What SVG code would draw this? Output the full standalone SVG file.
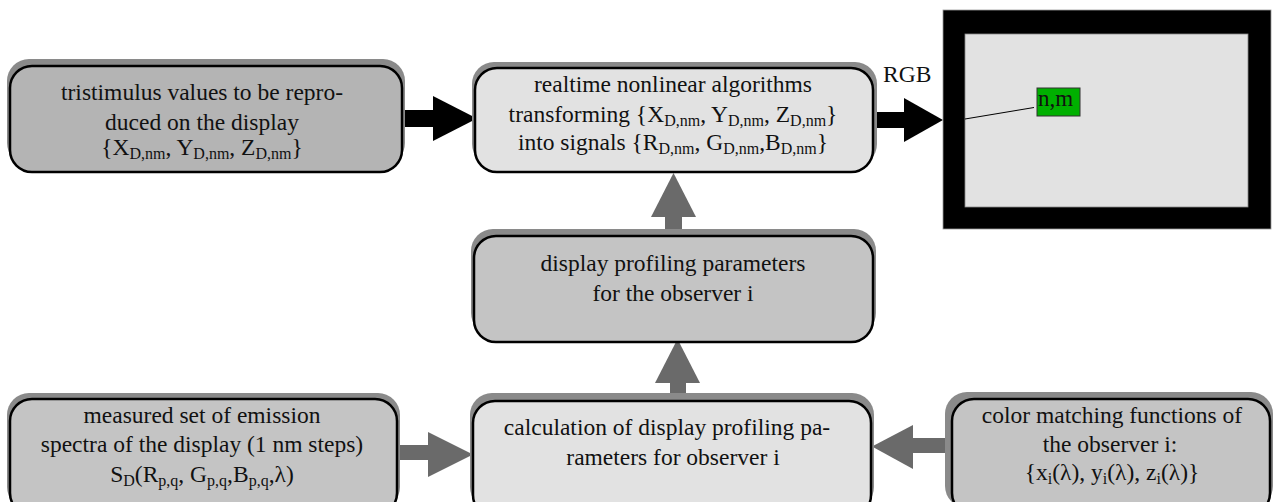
<svg xmlns="http://www.w3.org/2000/svg" width="1273" height="502" viewBox="0 0 1273 502">
<style>
  .shadow { fill: #8a8a8a; }
  .box { stroke: #000; stroke-width: 2.5; }
  .dark { fill: #c4c4c4; }
  .darker { fill: #b4b4b4; }
  .light { fill: #e2e2e2; }
  text { font-family: "Liberation Serif", "Times New Roman", serif; font-size: 23.5px; fill: #111; }
  .c { text-anchor: middle; }
  .sub { font-size: 16px; }
  .ga { fill: #6a6a6a; }
  .ba { fill: #000; }
</style>
<rect width="1273" height="502" fill="#fff"/>

<g id="connectors">
  <rect class="ba" x="400" y="110" width="35" height="17"/>
  <polygon class="ba" points="433,96 477,118.5 433,141"/>
  <rect class="ba" x="873" y="112" width="33" height="16"/>
  <polygon class="ba" points="904,98 943,120 904,142"/>
  <rect class="ga" x="665" y="215" width="17" height="18"/>
  <polygon class="ga" points="651,217 673.5,173 696,217"/>
  <rect class="ga" x="670" y="381" width="16" height="16"/>
  <polygon class="ga" points="655,383 677.5,339 700,383"/>
  <rect class="ga" x="397" y="445" width="33" height="15"/>
  <polygon class="ga" points="428,432 473,454.5 428,477"/>
  <rect class="ga" x="911" y="438" width="36" height="15"/>
  <polygon class="ga" points="913,425 872,446.5 913,469"/>
</g>

<g id="node-tristimulus">
  <rect class="shadow" x="7" y="59" width="398" height="106" rx="22"/>
  <rect class="box darker" x="10" y="66" width="392" height="106" rx="22"/>
  <text class="c" x="202" y="100">tristimulus values to be repro-</text>
  <text class="c" x="202" y="130">duced on the display</text>
  <text class="c" x="202" y="155">{X<tspan class="sub" dy="4">D,nm</tspan><tspan dy="-4">, Y</tspan><tspan class="sub" dy="4">D,nm</tspan><tspan dy="-4">, Z</tspan><tspan class="sub" dy="4">D,nm</tspan><tspan dy="-4">}</tspan></text>
</g>

<g id="node-realtime">
  <rect class="shadow" x="472" y="62" width="405" height="104" rx="22"/>
  <rect class="box light" x="475" y="68" width="398" height="104" rx="22"/>
  <text class="c" x="673" y="92">realtime nonlinear algorithms</text>
  <text class="c" x="673" y="122">transforming {X<tspan class="sub" dy="4">D,nm</tspan><tspan dy="-4">, Y</tspan><tspan class="sub" dy="4">D,nm</tspan><tspan dy="-4">, Z</tspan><tspan class="sub" dy="4">D,nm</tspan><tspan dy="-4">}</tspan></text>
  <text class="c" x="673" y="150">into signals {R<tspan class="sub" dy="4">D,nm</tspan><tspan dy="-4">, G</tspan><tspan class="sub" dy="4">D,nm</tspan><tspan dy="-4">,B</tspan><tspan class="sub" dy="4">D,nm</tspan><tspan dy="-4">}</tspan></text>
</g>

<g id="node-display">
  <rect x="943" y="10" width="328" height="219" fill="#000" stroke="#999" stroke-width="0.8"/>
  <rect x="965" y="34" width="283" height="173" fill="#e2e2e2" stroke="#888" stroke-width="0.8"/>
  <line x1="965" y1="119" x2="1034" y2="107.5" stroke="#000" stroke-width="1"/>
  <rect x="1037" y="88" width="43" height="28" fill="#00b000" stroke="#333" stroke-width="1"/>
  <text x="1038" y="106" style="font-size:23px">n,m</text>
  <text x="883" y="82">RGB</text>
</g>

<g id="node-profiling">
  <rect class="shadow" x="471" y="229" width="405" height="106" rx="22"/>
  <rect class="box dark" x="474" y="236" width="399" height="106" rx="22"/>
  <text class="c" x="673" y="271">display profiling parameters</text>
  <text class="c" x="673" y="301">for the observer i</text>
</g>

<g id="node-measured">
  <rect class="shadow" x="7" y="393" width="393" height="116" rx="22"/>
  <rect class="box dark" x="10" y="399" width="387" height="116" rx="22"/>
  <text class="c" x="202" y="423">measured set of emission</text>
  <text class="c" x="202" y="452">spectra of the display (1 nm steps)</text>
  <text class="c" x="202" y="482">S<tspan class="sub" dy="4">D</tspan><tspan dy="-4">(R</tspan><tspan class="sub" dy="4">p,q</tspan><tspan dy="-4">, G</tspan><tspan class="sub" dy="4">p,q</tspan><tspan dy="-4">,B</tspan><tspan class="sub" dy="4">p,q</tspan><tspan dy="-4">,λ)</tspan></text>
</g>

<g id="node-calculation">
  <rect class="shadow" x="470" y="393" width="404" height="116" rx="22"/>
  <rect class="box light" x="473" y="401" width="398" height="116" rx="22"/>
  <text class="c" x="667" y="435">calculation of display profiling pa-</text>
  <text class="c" x="673" y="465">rameters for observer i</text>
</g>

<g id="node-cmf">
  <rect class="shadow" x="945" y="392" width="328" height="116" rx="22"/>
  <rect class="box dark" x="952" y="399" width="318" height="116" rx="22"/>
  <text class="c" x="1112" y="423">color matching functions of</text>
  <text class="c" x="1110" y="452">the observer i:</text>
  <text class="c" x="1112" y="480">{x<tspan class="sub" dy="4">i</tspan><tspan dy="-4">(λ), y</tspan><tspan class="sub" dy="4">i</tspan><tspan dy="-4">(λ), z</tspan><tspan class="sub" dy="4">i</tspan><tspan dy="-4">(λ)}</tspan></text>
</g>
</svg>
